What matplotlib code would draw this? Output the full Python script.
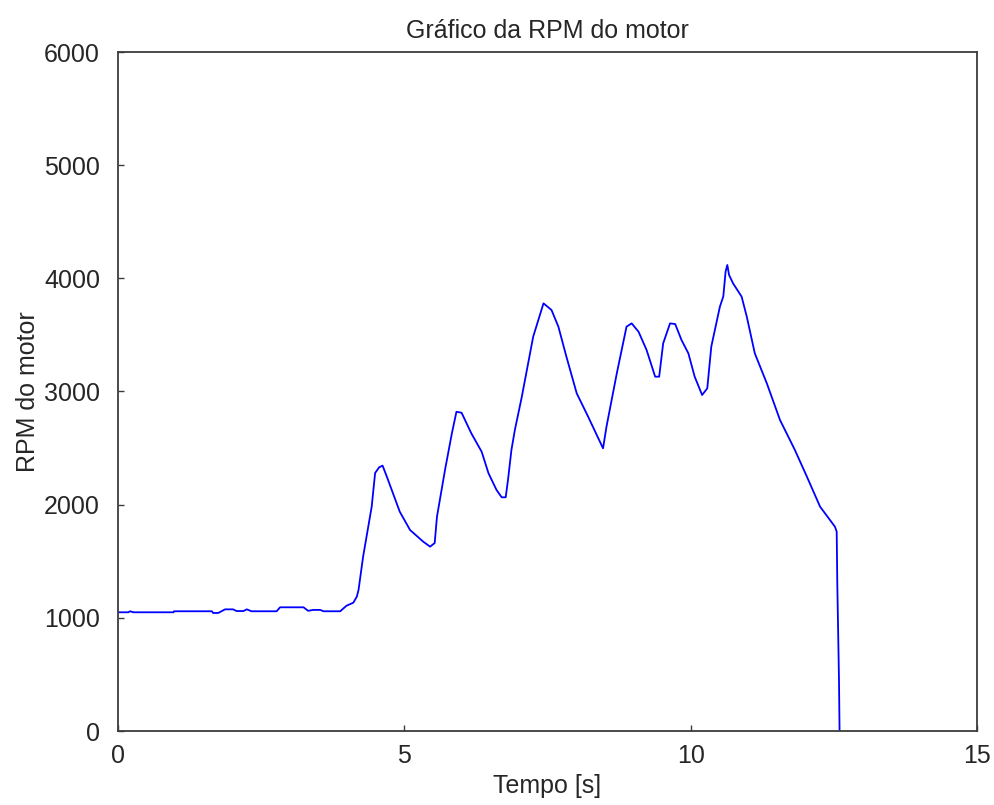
import numpy as np
import matplotlib
matplotlib.use('Agg')
import matplotlib.pyplot as plt

# dados
tempo = [0.0, 0.18, 0.21, 0.27, 0.97, 0.98, 1.64, 1.66, 1.75, 1.87, 2.01, 2.07, 2.19,
         2.25, 2.33, 2.77, 2.83, 3.24, 3.32, 3.41, 3.53, 3.59, 3.88, 3.99, 4.11, 4.17,
         4.20, 4.28, 4.43, 4.49, 4.56, 4.62, 4.70, 4.78, 4.92, 5.10, 5.33, 5.45, 5.53,
         5.57, 5.71, 5.83, 5.91, 6.00, 6.17, 6.35, 6.47, 6.61, 6.70, 6.77, 6.81, 6.87,
         6.93, 7.05, 7.25, 7.43, 7.57, 7.69, 7.83, 8.01, 8.21, 8.47, 8.53, 8.71, 8.88,
         8.97, 9.09, 9.23, 9.38, 9.45, 9.52, 9.64, 9.73, 9.84, 9.96, 10.07, 10.20, 10.29,
         10.36, 10.51, 10.57, 10.61, 10.64, 10.67, 10.74, 10.89, 10.98, 11.12, 11.33,
         11.56, 11.82, 12.03, 12.26, 12.52, 12.55, 12.56, 12.59, 12.60]
rpm = [1049, 1049, 1058, 1049, 1049, 1058, 1058, 1043, 1043, 1075, 1075, 1060, 1060,
       1075, 1058, 1058, 1093, 1093, 1062, 1070, 1070, 1058, 1058, 1107, 1134, 1187,
       1246, 1540, 1982, 2280, 2330, 2345, 2240, 2130, 1938, 1776, 1673, 1629, 1661,
       1894, 2306, 2630, 2821, 2812, 2630, 2468, 2277, 2130, 2065, 2065, 2218, 2483,
       2660, 2950, 3484, 3779, 3720, 3573, 3308, 2984, 2777, 2498, 2689, 3160, 3573,
       3602, 3528, 3367, 3131, 3131, 3426, 3602, 3596, 3455, 3337, 3131, 2969, 3028,
       3396, 3749, 3840, 4060, 4118, 4030, 3956, 3838, 3661, 3337, 3072,
       2748, 2483, 2247, 1982, 1805, 1761, 1320, 450, 0]

x_ticks = [0, 5, 10, 15]
y_ticks = [0, 1000, 2000, 3000, 4000, 5000, 6000]

plt.rcParams['font.family'] = ['Liberation Sans', 'DejaVu Sans']

fig = plt.figure(figsize=(9.95, 8.05), dpi=100)
ax = fig.add_axes([118 / 995, 1 - 731 / 805, (977 - 118) / 995, (731 - 52) / 805])

ax.plot(tempo, rpm, color='#0000ff', linewidth=1.3)

ax.set_xlim(0, 15)
ax.set_ylim(0, 6000)
ax.set_xticks(x_ticks)
ax.set_yticks(y_ticks)
ax.tick_params(direction='in', length=4, width=1, labelsize=18, colors='#3c3c3c',
               labelcolor='#262626', top=False, right=False)
ax.tick_params(axis='y', pad=13)
ax.tick_params(axis='x', pad=9)
for s in ax.spines.values():
    s.set_color('#3c3c3c')
    s.set_linewidth(1.3)

ax.set_title('Gráfico da RPM do motor', fontsize=18, color='#262626', pad=10)
ax.set_xlabel('Tempo [s]', fontsize=18, color='#262626', labelpad=5)
ax.set_ylabel('RPM do motor', fontsize=18, color='#262626', labelpad=3)

fig.savefig('out.png', dpi=100)
